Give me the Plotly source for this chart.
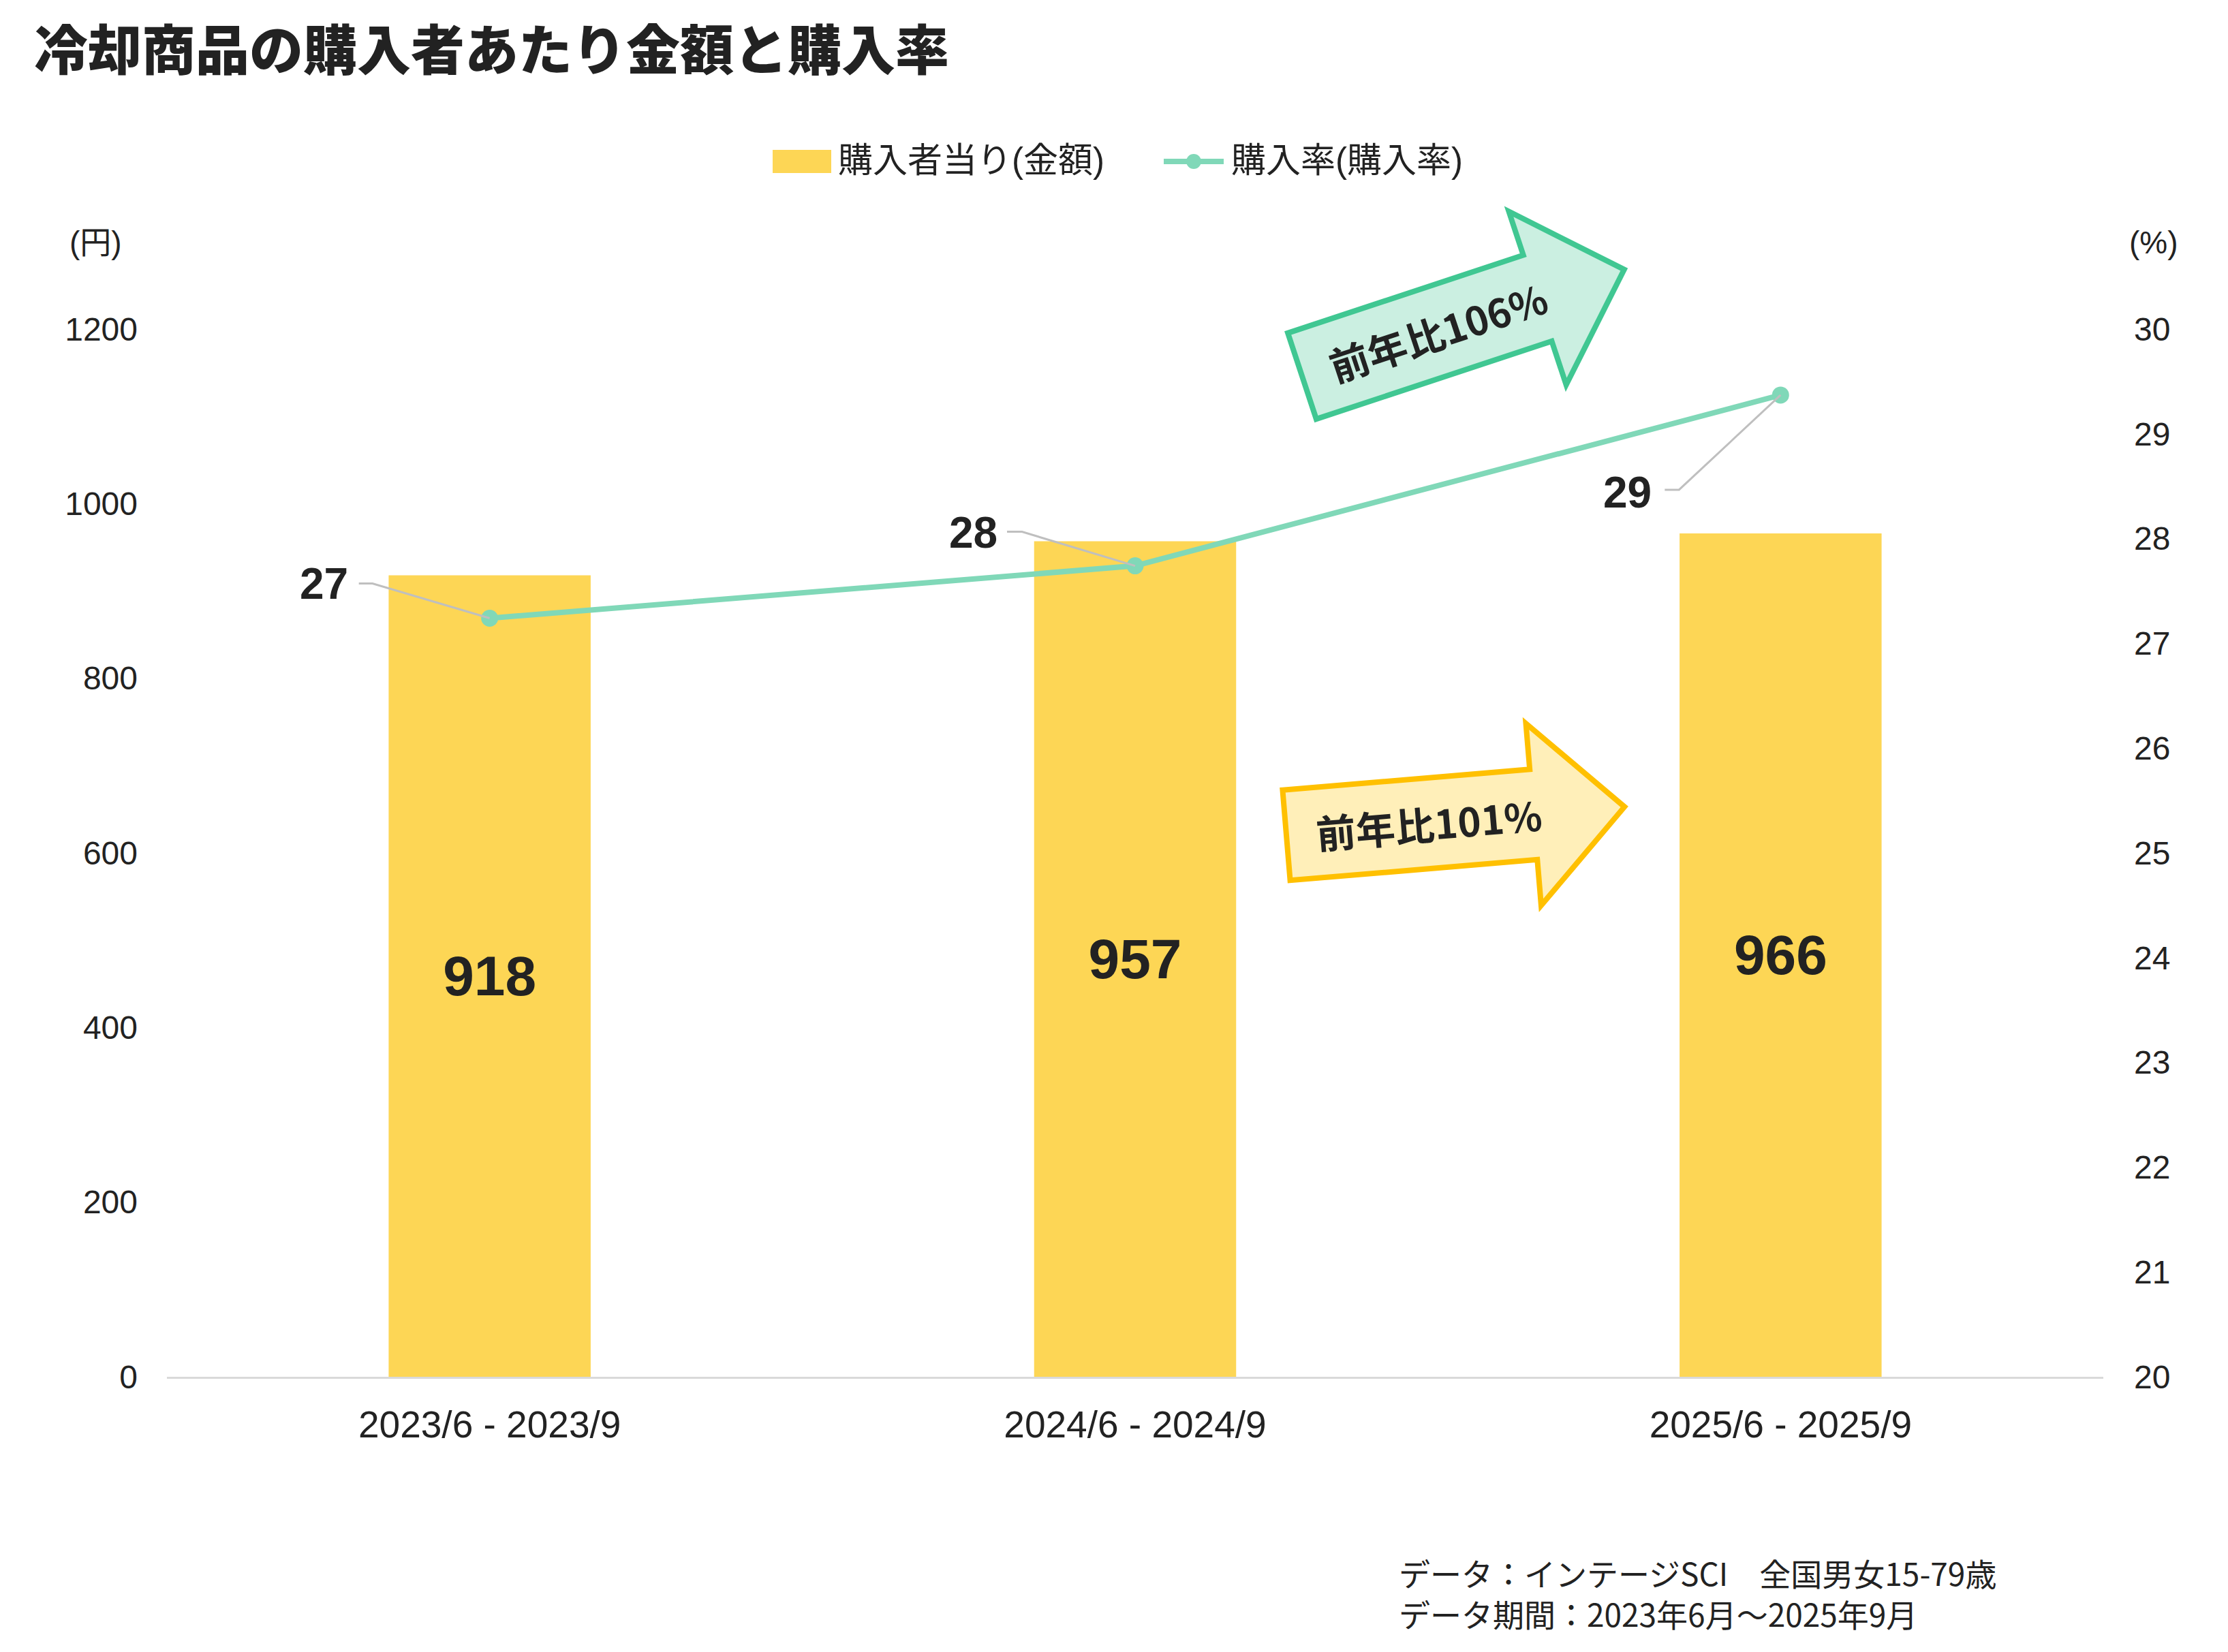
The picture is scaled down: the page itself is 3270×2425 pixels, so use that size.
import math
import plotly.graph_objects as go

# ---------------- data ----------------
categories = ["2023/6 - 2023/9", "2024/6 - 2024/9", "2025/6 - 2025/9"]
amount_per_buyer = [918, 957, 966]          # 購入者当り(金額) 円
purchase_rate = [27.24, 27.74, 29.37]       # 購入率 %
rate_labels = ["27", "28", "29"]
left_ticks = [0, 200, 400, 600, 800, 1000, 1200]
right_ticks = [20, 21, 22, 23, 24, 25, 26, 27, 28, 29, 30]
bar_name = "購入者当り(金額)"
line_name = "購入率(購入率)"
yoy_labels = ["前年比106%", "前年比101%"]
title_text = "冷却商品の購入者あたり金額と購入率"
note_lines = ["データ：インテージSCI　全国男女15-79歳", "データ期間：2023年6月～2025年9月"]

# ---------------- style ----------------
OFF = 8                       # page body margin
PAGE_W, PAGE_H = 3270, 2425
W, H = PAGE_W - 2 * OFF, PAGE_H - 2 * OFF
PL, PR, PT, PB = 245, 3087, 483, 2021       # plot area in page pixels
ML, MR, MT, MB = PL - OFF, OFF + W - PR, PT - OFF, OFF + H - PB
PW, PH = PR - PL, PB - PT
BAR_COLOR = "#FDD655"
LINE_COLOR = "#80D8B8"
TXT = "#222222"
LAT = "Liberation Sans, Arial, Noto Sans CJK JP, sans-serif"
CJK = "Noto Sans CJK JP, Liberation Sans, sans-serif"


def pp(X, Y):
    """page pixel -> paper coords"""
    return (X - PL) / PW, (PB - Y) / PH


fig = go.Figure()
fig.add_trace(go.Bar(
    x=categories, y=amount_per_buyer, name=bar_name,
    marker=dict(color=BAR_COLOR, line=dict(width=0)),
    text=[str(v) for v in amount_per_buyer], textposition="inside",
    insidetextanchor="middle", textangle=0,
    textfont=dict(family=LAT, size=82, color=TXT, weight="bold"),
    yaxis="y",
))
fig.add_trace(go.Scatter(
    x=categories, y=purchase_rate, name=line_name, mode="lines+markers",
    line=dict(color=LINE_COLOR, width=8),
    marker=dict(color=LINE_COLOR, size=25),
    yaxis="y2",
))

shapes = []
annotations = []

# leader lines + labels for the rate points
label_offsets = [(-243, 50), (-238, 49), (-225, -143)]
leader_paths = [(-172, 51, -192), (-166, 50, -188), (-149, -139, -170)]
for cat, val, lab, (dx, dy), (ex, ey, hx) in zip(categories, purchase_rate, rate_labels,
                                                label_offsets, leader_paths):
    shapes.append(dict(
        type="path", xref="x", yref="y2", xsizemode="pixel", ysizemode="pixel",
        xanchor=cat, yanchor=val,
        path=f"M0,0 L{ex},{ey} L{hx},{ey}",
        line=dict(color="#BFBFBF", width=3), layer="above",
    ))
    annotations.append(dict(
        x=cat, y=val, xref="x", yref="y2", text=lab, showarrow=False,
        xshift=dx, yshift=dy, xanchor="center", yanchor="middle",
        font=dict(family=LAT, size=64, color=TXT, weight="bold"),
    ))


# year-over-year arrows
def arrow(tail, theta_deg, fill, edge, label):
    L, s, hw, hl = 498, 133, 268, 134
    t = math.radians(theta_deg)
    d = (math.cos(t), -math.sin(t))
    n = (-math.sin(t), -math.cos(t))
    local = [(0, s / 2), (L - hl, s / 2), (L - hl, hw / 2), (L, 0),
             (L - hl, -hw / 2), (L - hl, -s / 2), (0, -s / 2)]
    pts = []
    for u, v in local:
        X = tail[0] + u * d[0] + v * n[0]
        Y = tail[1] + u * d[1] + v * n[1]
        pts.append(pp(X, Y))
    path = "M" + " L".join(f"{a:.5f},{b:.5f}" for a, b in pts) + " Z"
    shapes.append(dict(type="path", xref="paper", yref="paper", path=path,
                       fillcolor=fill, line=dict(color=edge, width=8), layer="above"))
    cx, cy = tail[0] + 210 * d[0], tail[1] + 210 * d[1]
    px_, py_ = pp(cx, cy)
    annotations.append(dict(x=px_, y=py_, xref="paper", yref="paper", text=label,
                            showarrow=False, textangle=-theta_deg,
                            xanchor="center", yanchor="middle",
                            font=dict(family=CJK, size=58, color=TXT, weight="bold")))


arrow((1911, 552), 18.3, "#CBEFE1", "#40C792", yoy_labels[0])
arrow((1888, 1226), 4.8, "#FFEFB9", "#FFC000", yoy_labels[1])

# custom legend
x0, y0 = pp(1134, 220)
x1, y1 = pp(1220, 254)
shapes.append(dict(type="rect", xref="paper", yref="paper", x0=x0, x1=x1, y0=y1, y1=y0,
                   fillcolor=BAR_COLOR, line=dict(width=0)))
tx, ty = pp(1228, 235)
annotations.append(dict(x=tx, y=ty, xref="paper", yref="paper", text=bar_name,
                        showarrow=False, xanchor="left", yanchor="middle",
                        font=dict(family=LAT, size=51, color=TXT)))
lx0, ly = pp(1708, 237)
lx1, _ = pp(1796, 237)
shapes.append(dict(type="line", xref="paper", yref="paper", x0=lx0, x1=lx1, y0=ly, y1=ly,
                   line=dict(color=LINE_COLOR, width=8)))
cx0, cy0 = pp(1741, 226)
cx1, cy1 = pp(1763, 248)
shapes.append(dict(type="circle", xref="paper", yref="paper", x0=cx0, x1=cx1, y0=cy1, y1=cy0,
                   fillcolor=LINE_COLOR, line=dict(width=0)))
tx2, _ = pp(1805, 235)
annotations.append(dict(x=tx2, y=ty, xref="paper", yref="paper", text=line_name,
                        showarrow=False, xanchor="left", yanchor="middle",
                        font=dict(family=LAT, size=51, color=TXT)))

# axis unit labels
for text, X in (("(円)", 140), ("(%)", 3161)):
    ax_, ay_ = pp(X, 356)
    annotations.append(dict(x=ax_, y=ay_, xref="paper", yref="paper", text=text,
                            showarrow=False, xanchor="center", yanchor="middle",
                            font=dict(family=LAT, size=46, color=TXT)))

# footnote
nx, ny = pp(2051, 2338)
annotations.append(dict(x=nx, y=ny, xref="paper", yref="paper", text="<br>".join(note_lines),
                        showarrow=False, xanchor="left", yanchor="middle", align="left",
                        font=dict(family=CJK, size=46, color=TXT)))

fig.update_layout(
    width=W, height=H, autosize=False,
    margin=dict(l=ML, r=MR, t=MT, b=MB, pad=0),
    paper_bgcolor="white", plot_bgcolor="white",
    showlegend=False,
    bargap=0.687,
    title=dict(text=title_text, xref="container", yref="container",
               x=(50 - OFF) / W, xanchor="left", y=1 - (75 - OFF) / H, yanchor="middle",
               font=dict(family=CJK, size=79, color=TXT, weight=900)),
    xaxis=dict(type="category", categoryorder="array", categoryarray=categories,
               range=[-0.5, 2.5], showgrid=False, showline=True, linecolor="#D9D9D9",
               linewidth=3, ticks="", ticklabelstandoff=20,
               tickfont=dict(family=LAT, size=55, color=TXT), zeroline=False),
    yaxis=dict(range=[0, 1200], tickvals=left_ticks, showgrid=False, zeroline=False,
               showline=False, ticks="", ticklabelstandoff=42,
               tickfont=dict(family=LAT, size=48, color=TXT)),
    yaxis2=dict(range=[20, 30], tickvals=right_ticks, overlaying="y", side="right",
                showgrid=False, zeroline=False, showline=False, ticks="",
                ticklabelstandoff=44,
                tickfont=dict(family=LAT, size=48, color=TXT)),
    shapes=shapes,
    annotations=annotations,
)

fig.write_html("out.html")
